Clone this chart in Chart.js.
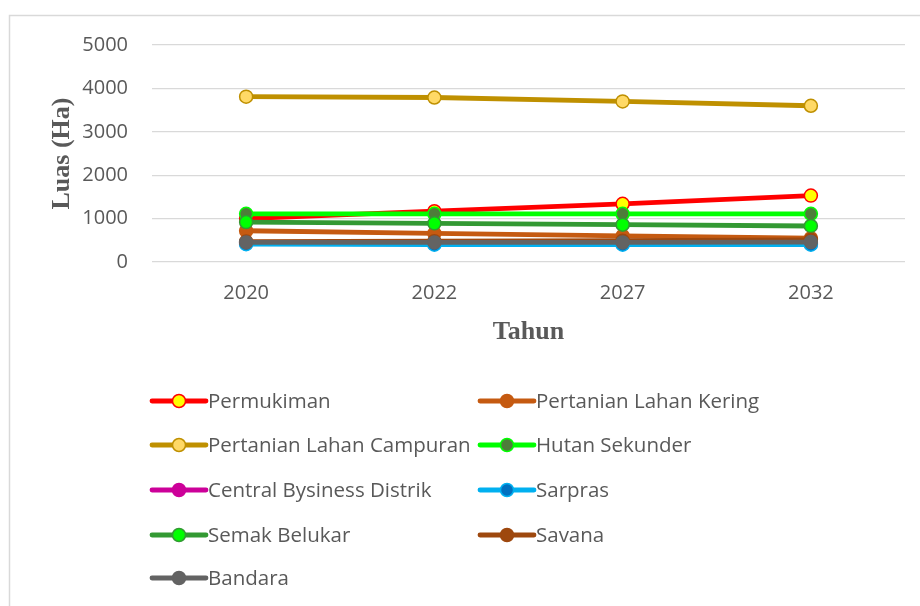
<!DOCTYPE html>
<html>
<head>
<meta charset="utf-8">
<script src="https://cdn.jsdelivr.net/npm/chart.js@4"></script>
<style>
  html, body { margin: 0; padding: 0; background: #fff; }
  #wrap { width: 920px; height: 606px; position: relative; }
</style>
</head>
<body>
<div id="wrap"><canvas id="canvas" width="920" height="606"></canvas></div>
<script>
// data
var tahun = ['2020', '2022', '2027', '2032'];
var seriesNames = ['Permukiman', 'Pertanian Lahan Kering', 'Pertanian Lahan Campuran', 'Hutan Sekunder',
  'Central Bysiness Distrik', 'Sarpras', 'Semak Belukar', 'Savana', 'Bandara'];
var permukiman = [1000, 1170, 1340, 1530];
var lahanKering = [720, 660, 600, 550];
var lahanCampuran = [3810, 3790, 3700, 3600];
var hutanSekunder = [1110, 1110, 1110, 1110];
var cbd = [430, 420, 420, 420];
var sarpras = [410, 400, 400, 400];
var semakBelukar = [920, 890, 860, 830];
var savana = [470, 480, 490, 510];
var bandara = [450, 450, 450, 460];
var yTicks = [0, 1000, 2000, 3000, 4000, 5000];

var seriesValues = [permukiman, lahanKering, lahanCampuran, hutanSekunder, cbd, sarpras, semakBelukar, savana, bandara];
var lineColors = ['#FF0000', '#C55A11', '#BF9000', '#00FF00', '#CC0099', '#00B0F0', '#339933', '#9E480E', '#636363'];
var markerFill = ['#FFFF00', '#C55A11', '#FFD966', '#4E7D3A', '#CC0099', '#0070C0', '#00FF00', '#9E480E', '#636363'];

var txt = '#595959';
var tickFont = { family: 'Open Sans', size: 20 };
var titleFont = { family: 'Liberation Serif', size: 26, weight: 'bold' };

var datasets = seriesNames.map(function (name, i) {
  return {
    label: name,
    data: seriesValues[i],
    borderColor: lineColors[i],
    backgroundColor: markerFill[i],
    pointBackgroundColor: markerFill[i],
    pointBorderColor: lineColors[i],
    pointBorderWidth: 1.5,
    pointRadius: 6.5,
    borderWidth: 4.8,
    tension: 0,
    order: seriesNames.length - i   // later series on top, like the original
  };
});

// frame + two-column legend drawn on the canvas
var extras = {
  id: 'extras',
  afterDraw: function (chart) {
    var ctx = chart.ctx;
    ctx.save();
    ctx.strokeStyle = '#d9d9d9';
    ctx.lineWidth = 1.5;
    ctx.strokeRect(9.5, 15.5, 930, 620);

    var cols = [150, 478];
    var rows = [401, 445, 490, 535, 578];
    ctx.font = '20.5px "Open Sans"';
    ctx.textBaseline = 'middle';
    chart.data.datasets.forEach(function (ds, i) {
      var x = cols[i % 2], y = rows[Math.floor(i / 2)];
      ctx.strokeStyle = ds.borderColor;
      ctx.lineWidth = 4.8;
      ctx.lineCap = 'round';
      ctx.beginPath();
      ctx.moveTo(x + 2, y);
      ctx.lineTo(x + 56, y);
      ctx.stroke();
      ctx.beginPath();
      ctx.arc(x + 29, y, 6.5, 0, Math.PI * 2);
      ctx.fillStyle = ds.pointBackgroundColor;
      ctx.fill();
      ctx.lineWidth = 1.5;
      ctx.strokeStyle = ds.pointBorderColor;
      ctx.stroke();
      ctx.fillStyle = txt;
      ctx.fillText(ds.label, x + 58, y + 1);
    });
    ctx.restore();
  }
};

new Chart(document.getElementById('canvas'), {
  type: 'line',
  data: { labels: tahun, datasets: datasets },
  options: {
    responsive: false,
    animation: false,
    layout: { padding: { left: 43, top: 45, right: 15, bottom: 258 } },
    plugins: { legend: { display: false }, tooltip: { enabled: false } },
    scales: {
      x: {
        offset: true,
        afterFit: function (axis) { axis.height = 86; },
        grid: { display: false, drawTicks: false },
        border: { display: false },
        ticks: { color: txt, font: tickFont, padding: 19 },
        title: {
          display: true, text: 'Tahun', color: txt, font: titleFont,
          padding: { top: 4, bottom: 0 }
        }
      },
      y: {
        min: 0, max: 5000,
        afterBuildTicks: function (axis) {
          axis.ticks = yTicks.map(function (v) { return { value: v }; });
        },
        afterFit: function (axis) { axis.width = 109; },
        grid: { color: '#d9d9d9', lineWidth: 1.3, drawTicks: false },
        border: { display: false },
        ticks: {
          color: txt, font: tickFont, padding: 24,
          callback: function (v) { return String(v); }
        },
        title: {
          display: true, text: 'Luas (Ha)', color: txt, font: titleFont,
          padding: { top: 4, bottom: 4 }
        }
      }
    }
  },
  plugins: [extras]
});
</script>
</body>
</html>
